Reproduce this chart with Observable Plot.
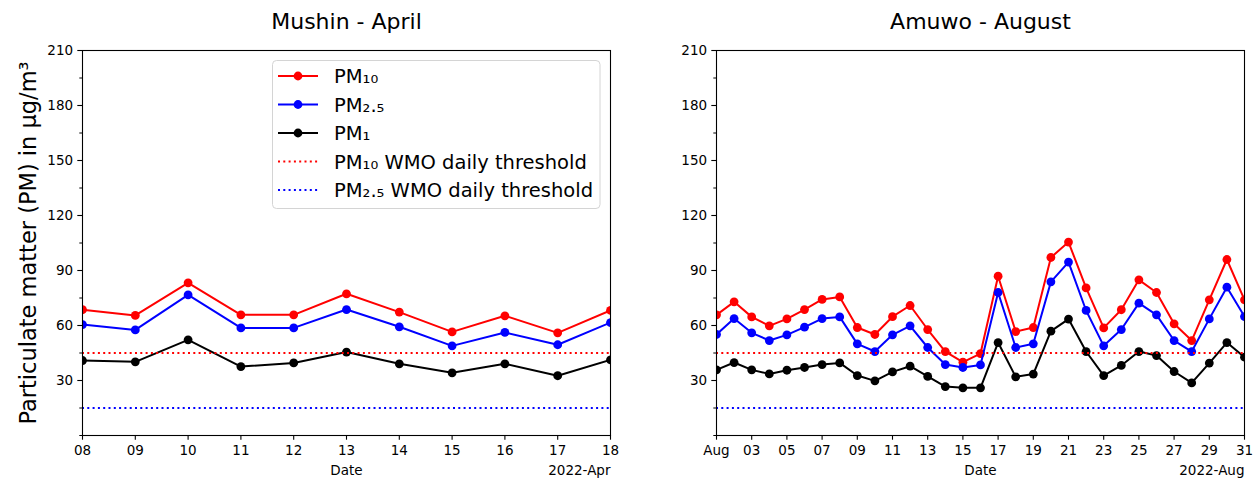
<!DOCTYPE html>
<html>
<head>
<meta charset="utf-8">
<script src="https://cdn.jsdelivr.net/npm/d3@7"></script>
<script src="https://cdn.jsdelivr.net/npm/@observablehq/plot@0.6"></script>
<style>
  html, body { margin: 0; padding: 0; background: #fff; }
  #wrap { position: relative; width: 1260px; height: 480px; font-family: "DejaVu Sans", sans-serif; }
  .panel { position: absolute; top: 0; width: 630px; height: 480px; }
  #legend { position: absolute; left: 0; top: 0; }
</style>
</head>
<body>
<div id="wrap">
  <div class="panel" id="p1" style="left:0px"></div>
  <div class="panel" id="p2" style="left:630px"></div>
  <svg id="legend" width="630" height="480"></svg>
</div>
<script>
// ---- Data ----
const mushinDays = ["2022-04-08","2022-04-09","2022-04-10","2022-04-11","2022-04-12","2022-04-13","2022-04-14","2022-04-15","2022-04-16","2022-04-17","2022-04-18"];
const mushinPM10 = [68.6, 65.5, 83.3, 65.8, 65.8, 77.3, 67.3, 56.5, 65.3, 56.0, 68.2];
const mushinPM25 = [60.5, 57.6, 76.7, 58.7, 58.7, 68.7, 59.3, 48.9, 56.2, 49.5, 61.6];
const mushinPM1  = [40.9, 40.2, 52.2, 37.6, 39.6, 45.5, 39.1, 34.2, 39.1, 32.6, 41.3];
const mushinTicks = mushinDays;
const mushinTickLabels = ["08","09","10","11","12","13","14","15","16","17","18"];

const amuwoDays = ["2022-08-01","2022-08-02","2022-08-03","2022-08-04","2022-08-05","2022-08-06","2022-08-07","2022-08-08","2022-08-09","2022-08-10",
  "2022-08-11","2022-08-12","2022-08-13","2022-08-14","2022-08-15","2022-08-16","2022-08-17","2022-08-18","2022-08-19","2022-08-20",
  "2022-08-21","2022-08-22","2022-08-23","2022-08-24","2022-08-25","2022-08-26","2022-08-27","2022-08-28","2022-08-29","2022-08-30","2022-08-31"];
const amuwoPM10 = [65.8, 72.9, 64.7, 59.8, 63.6, 68.7, 74.2, 75.6, 58.9, 55.1,
  64.8, 70.9, 57.8, 45.8, 40.0, 44.7, 86.9, 56.7, 58.9, 97.1,
  105.5, 80.5, 58.7, 68.6, 84.9, 78.0, 60.9, 51.8, 74.0, 96.0, 74.0];
const amuwoPM25 = [55.1, 63.8, 56.0, 51.8, 54.9, 59.1, 63.8, 64.7, 50.0, 45.8,
  54.9, 59.8, 48.0, 38.7, 37.1, 38.5, 78.0, 48.0, 50.0, 83.8,
  94.6, 68.2, 48.9, 57.8, 72.2, 65.8, 51.8, 45.8, 63.6, 80.9, 64.9];
const amuwoPM1 = [35.8, 39.8, 35.8, 33.6, 35.6, 37.1, 38.7, 39.6, 32.7, 29.8,
  34.7, 37.8, 32.2, 26.7, 26.0, 26.0, 50.7, 32.0, 33.5, 56.9,
  63.5, 45.8, 32.7, 38.2, 45.8, 43.6, 34.9, 28.7, 39.5, 50.7, 42.7];
const amuwoTicks = ["2022-08-01","2022-08-03","2022-08-05","2022-08-07","2022-08-09","2022-08-11","2022-08-13","2022-08-15",
  "2022-08-17","2022-08-19","2022-08-21","2022-08-23","2022-08-25","2022-08-27","2022-08-29","2022-08-31"];
const amuwoTickLabels = ["Aug","03","05","07","09","11","13","15","17","19","21","23","25","27","29","31"];

const pm10Threshold = 45;
const pm25Threshold = 15;
const yMajorTicks = [30, 60, 90, 120, 150, 180, 210];
const yMinorTicks = [0, 15, 45, 75, 105, 135, 165, 195];
const yDomain = [0, 210];

const seriesNames = ["PM₁₀", "PM₂.₅", "PM₁"];
const seriesColors = ["#ff0000", "#0000ff", "#000000"];
const thresholdNames = ["PM₁₀ WMO daily threshold", "PM₂.₅ WMO daily threshold"];
const thresholdColors = ["#ff0000", "#0000ff"];

const FONT = "DejaVu Sans";
const TICK = 13.5;

function panel({title, days, pm10, pm25, pm1, ticks, tickLabels, yearLabel, marginLeft, marginRight, showYLabel}) {
  const rows = days.map((d, i) => ({date: new Date(d), pm10: pm10[i], pm25: pm25[i], pm1: pm1[i]}));
  const tickDates = ticks.map(t => new Date(t));
  const lbl = new Map(tickDates.map((t, i) => [+t, tickLabels[i]]));
  const dash = "2,3.3";
  const marks = [];
  const series = [["pm10", 0], ["pm25", 1], ["pm1", 2]];
  for (const [key, k] of series) {
    marks.push(Plot.line(rows, {x: "date", y: key, stroke: seriesColors[k], strokeWidth: 2, clip: true}));
    marks.push(Plot.dot(rows, {x: "date", y: key, fill: seriesColors[k], r: 4.4, clip: true}));
  }
  marks.push(Plot.ruleY([pm10Threshold], {stroke: thresholdColors[0], strokeWidth: 2, strokeDasharray: dash}));
  marks.push(Plot.ruleY([pm25Threshold], {stroke: thresholdColors[1], strokeWidth: 2, strokeDasharray: dash}));
  marks.push(Plot.frame({stroke: "black", strokeWidth: 1.1}));
  marks.push(Plot.axisY({ticks: yMajorTicks, tickSize: 4.7, tickPadding: 4.7, fontSize: TICK, label: null, strokeWidth: 1.1, tickFormat: d => String(d)}));
  marks.push(Plot.axisY({ticks: yMinorTicks, tickSize: 2.7, text: null, label: null, strokeWidth: 1}));
  marks.push(Plot.axisX({ticks: tickDates, tickSize: 4.7, tickPadding: 5, fontSize: TICK, label: null, strokeWidth: 1.1, tickFormat: d => lbl.get(+d)}));
  marks.push(Plot.text(["Date"], {frameAnchor: "bottom", lineAnchor: "bottom", dy: 39, fontSize: TICK, fill: "black"}));
  marks.push(Plot.text([yearLabel], {frameAnchor: "bottom-right", textAnchor: "end", lineAnchor: "bottom", dy: 39, fontSize: TICK, fill: "black"}));
  marks.push(Plot.text([title], {frameAnchor: "top", lineAnchor: "bottom", dy: -22, fontSize: 22, fill: "black"}));
  if (showYLabel) {
    marks.push(Plot.text(["Particulate matter (PM) in μg/m³"], {frameAnchor: "left", rotate: -90, lineAnchor: "bottom", textAnchor: "middle", dx: -47, fontSize: 22.5, fill: "black"}));
  }
  return Plot.plot({
    width: 630, height: 480,
    marginTop: 50, marginBottom: 45, marginLeft, marginRight,
    style: {fontFamily: FONT, fontSize: TICK + "px", color: "black", background: "white", overflow: "visible"},
    x: {type: "utc", domain: [rows[0].date, rows[rows.length - 1].date]},
    y: {domain: yDomain},
    marks
  });
}

document.getElementById("p1").appendChild(panel({
  title: "Mushin - April", days: mushinDays, pm10: mushinPM10, pm25: mushinPM25, pm1: mushinPM1,
  ticks: mushinTicks, tickLabels: mushinTickLabels, yearLabel: "2022-Apr", marginLeft: 82, marginRight: 20, showYLabel: true
}));
document.getElementById("p2").appendChild(panel({
  title: "Amuwo - August", days: amuwoDays, pm10: amuwoPM10, pm25: amuwoPM25, pm1: amuwoPM1,
  ticks: amuwoTicks, tickLabels: amuwoTickLabels, yearLabel: "2022-Aug", marginLeft: 86, marginRight: 16, showYLabel: false
}));

// ---- Legend (left panel) ----
const lg = d3.select("#legend");
lg.style("pointer-events", "none");
const L = {x: 272.5, y: 60.5, w: 327.5, h: 148};
lg.append("rect").attr("x", L.x).attr("y", L.y).attr("width", L.w).attr("height", L.h)
  .attr("rx", 4).attr("fill", "rgba(255,255,255,0.85)").attr("stroke", "#d4d4d4").attr("stroke-width", 1);
const entries = [
  ...seriesNames.map((n, i) => ({name: n, color: seriesColors[i], dotted: false})),
  ...thresholdNames.map((n, i) => ({name: n, color: thresholdColors[i], dotted: true}))
];
entries.forEach((e, i) => {
  const cy = 76 + i * 28.5;
  lg.append("line").attr("x1", 278).attr("x2", 318).attr("y1", cy).attr("y2", cy)
    .attr("stroke", e.color).attr("stroke-width", 2).attr("stroke-dasharray", e.dotted ? "2,3.3" : null);
  if (!e.dotted) lg.append("circle").attr("cx", 298).attr("cy", cy).attr("r", 4.4).attr("fill", e.color);
  lg.append("text").attr("x", 334).attr("y", cy + 7).attr("font-family", FONT).attr("font-size", 19.5)
    .attr("fill", "black").text(e.name);
});
</script>
</body>
</html>
